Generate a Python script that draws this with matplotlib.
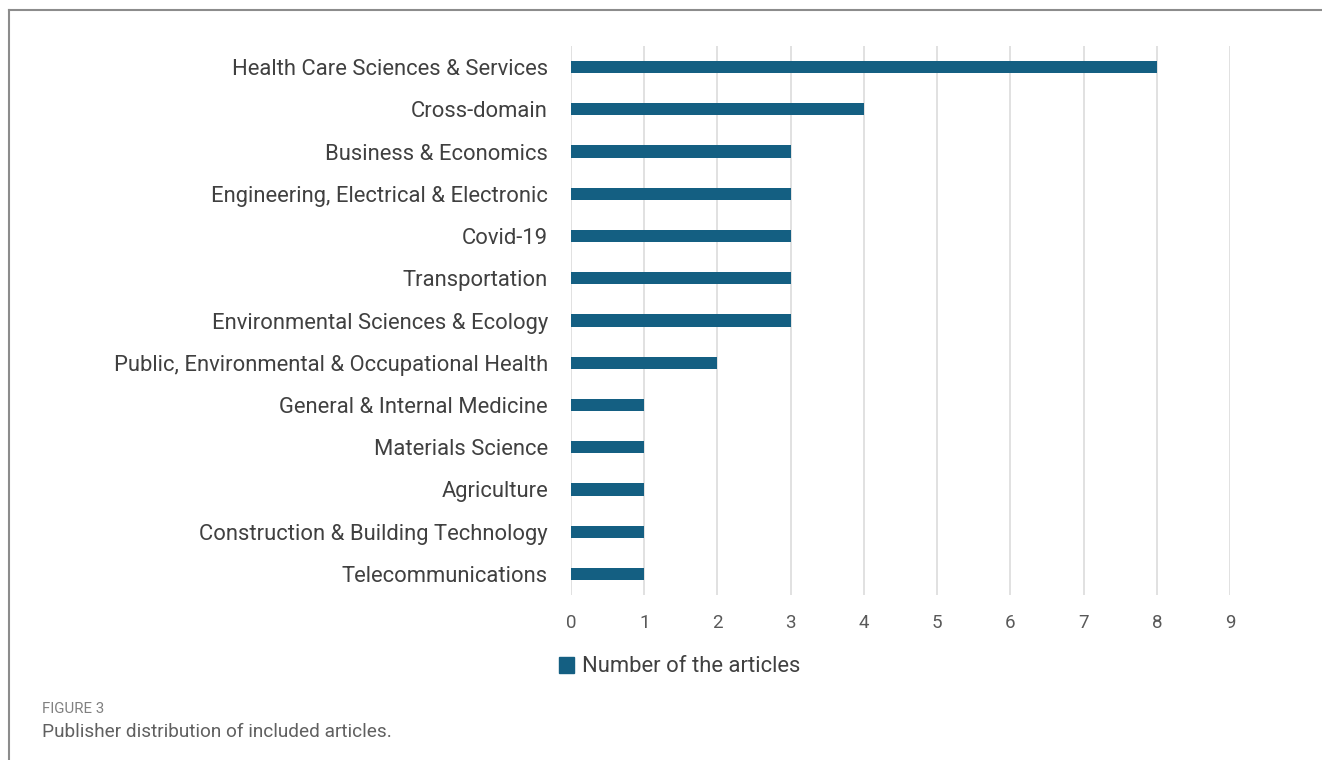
import matplotlib.pyplot as plt
from matplotlib.patches import Patch
from matplotlib.lines import Line2D

plt.rcParams['font.family'] = ['Roboto', 'DejaVu Sans']

categories = [
    'Health Care Sciences & Services',
    'Cross-domain',
    'Business & Economics',
    'Engineering, Electrical & Electronic',
    'Covid-19',
    'Transportation',
    'Environmental Sciences & Ecology',
    'Public, Environmental & Occupational Health',
    'General & Internal Medicine',
    'Materials Science',
    'Agriculture',
    'Construction & Building Technology',
    'Telecommunications',
]
counts = [8, 4, 3, 3, 3, 3, 3, 2, 1, 1, 1, 1, 1]
x_ticks = list(range(10))

bar_color = '#145F82'
text_color = '#404040'

fig = plt.figure(figsize=(13.22, 7.60), dpi=100)
ax = fig.add_axes([571 / 1322, 1 - 595 / 760, (1230 - 571) / 1322, (595 - 46) / 760])

ypos = list(range(len(categories)))
ax.barh(ypos, counts, height=0.29, color=bar_color, zorder=3,
        label='Number of the articles')
ax.set_ylim(len(categories) - 0.5, -0.5)
ax.set_xlim(0, 9)
ax.set_xticks(x_ticks)
ax.set_yticks(ypos)
ax.set_yticklabels(categories, fontsize=15.8, color=text_color)
ax.tick_params(axis='x', labelsize=13.5, labelcolor='#595959', length=0, pad=14)
ax.tick_params(axis='y', length=0, pad=16.5)
ax.grid(axis='x', color='#DCDCDC', linewidth=1.2, zorder=0)
for s in ax.spines.values():
    s.set_visible(False)

fig.legend(handles=[Patch(color=bar_color)], labels=['Number of the articles'],
           loc='center left', bbox_to_anchor=(539 / 1322, 1 - 667 / 760),
           frameon=False, fontsize=15.8, handlelength=0.7, handleheight=0.7,
           handletextpad=0.35, labelcolor=text_color)

# caption below the chart
fig.text(42 / 1322, 1 - 709 / 760, 'FIGURE 3', fontsize=10.8, color='#808080',
         va='center', ha='left')
fig.text(42 / 1322, 1 - 732 / 760, 'Publisher distribution of included articles.',
         fontsize=13.7, color='#606060', va='center', ha='left')

# frame lines at the top and left of the figure
fig.add_artist(Line2D([9 / 1322, 1], [1 - 10 / 760, 1 - 10 / 760],
                      transform=fig.transFigure, color='#8C8C8C', linewidth=1.5))
fig.add_artist(Line2D([9 / 1322, 9 / 1322], [0, 1 - 10 / 760],
                      transform=fig.transFigure, color='#8C8C8C', linewidth=1.5))

fig.savefig('out.png', dpi=100)
